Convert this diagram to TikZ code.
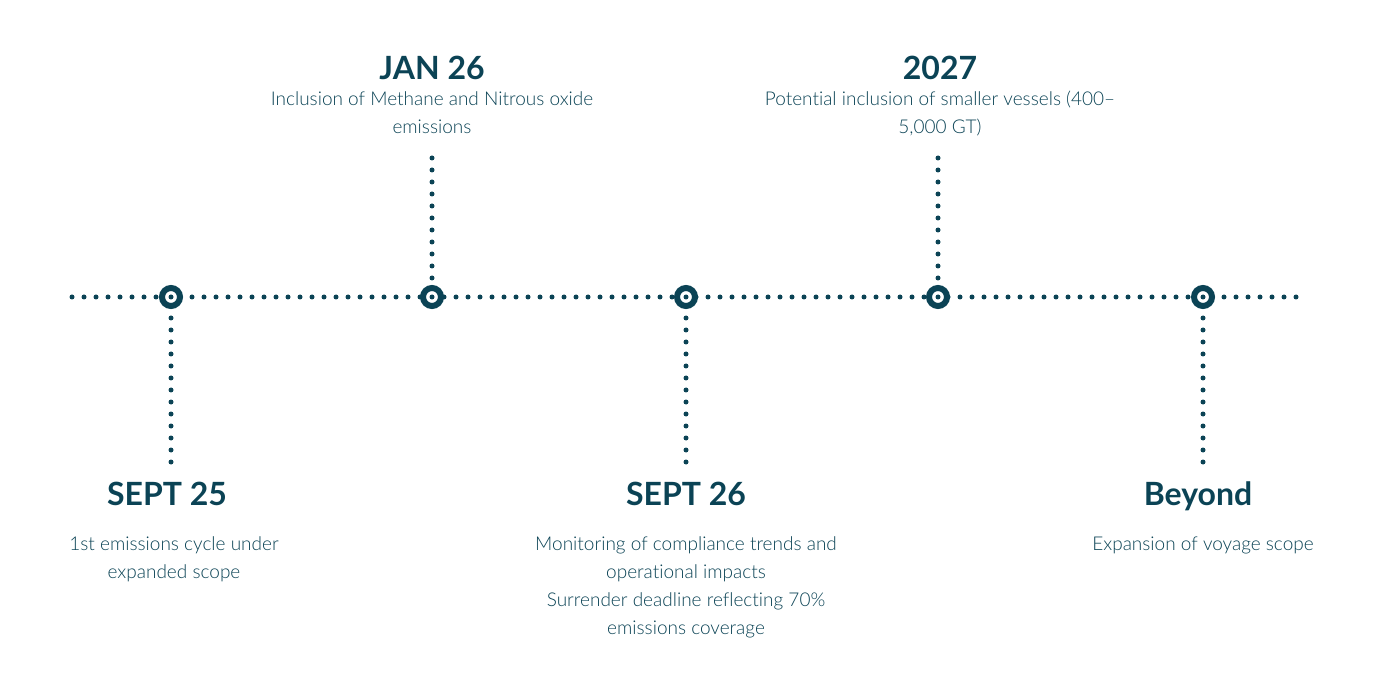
\documentclass[tikz,border=0pt]{standalone}
\usepackage{fontspec}
\setmainfont{Lato}
\newfontfamily\lightfont{Lato Light}[Ligatures={TeX,NoCommon}]
\usepackage{tikz}

\definecolor{ink}{HTML}{0B4355}

\tikzset{
  dots/.style={draw=ink, line width=5pt, line cap=round, dash pattern=on 0pt off 12pt},
  marker/.style={circle, draw=ink, line width=6pt, fill=white, minimum size=18pt, inner sep=0pt,
    path picture={\fill[ink] (path picture bounding box.center) circle (2.5pt);}},
  year/.style={anchor=base, text=ink, font=\fontsize{32}{38}\selectfont\bfseries, inner sep=0pt},
  note/.style={anchor=base, align=center, text=ink, font=\lightfont\fontsize{19}{28}\selectfont, inner sep=0pt},
}

\begin{document}
\begin{tikzpicture}[x=1pt, y=-1pt]
    \useasboundingbox (0, 0) rectangle (1400, 700);

    % ligne du temps
    \coordinate (start) at (72, 297);
    \coordinate (stop) at (1300, 297);
    \draw[dots] (start) -- (stop);

    % jalons
    \node[marker] (m1) at (171, 297) {};
    \node[marker] (m2) at (432, 297) {};
    \node[marker] (m3) at (686, 297) {};
    \node[marker] (m4) at (938, 297) {};
    \node[marker] (m5) at (1203, 297) {};

    % traits verticaux
    \coordinate (b1) at (171, 462);
    \coordinate (t2) at (432, 158);
    \coordinate (b3) at (686, 462);
    \coordinate (t4) at (938, 158);
    \coordinate (b5) at (1203, 462);
    \draw[dots] (b1) -- (m1);
    \draw[dots] (t2) -- (m2);
    \draw[dots] (b3) -- (m3);
    \draw[dots] (t4) -- (m4);
    \draw[dots] (b5) -- (m5);

    % textes du haut (ancre = ligne de base de la derniere ligne)
    \node[year] (y2) at (432, 80) {JAN 26};
    \node[note] (n2) at (432, 134) {Inclusion of Methane and Nitrous oxide\\emissions};
    \node[year] (y4) at (940, 80) {2027};
    \node[note] (n4) at (940, 134) {Potential inclusion of smaller vessels (400--\\5,000 GT)};

    % textes du bas
    \node[year] (y1) at (167, 505) {SEPT 25};
    \node[note] (n1) at (174, 578) {1st emissions cycle under\\expanded scope};
    \node[year] (y3) at (686, 505) {SEPT 26};
    \node[note] (n3) at (686, 634) {Monitoring of compliance trends and\\operational impacts\\Surrender deadline reflecting 70\%\\emissions coverage};
    \node[year] (y5) at (1198, 505) {Beyond};
    \node[note] (n5) at (1203, 550) {Expansion of voyage scope};

\end{tikzpicture}
\end{document}
